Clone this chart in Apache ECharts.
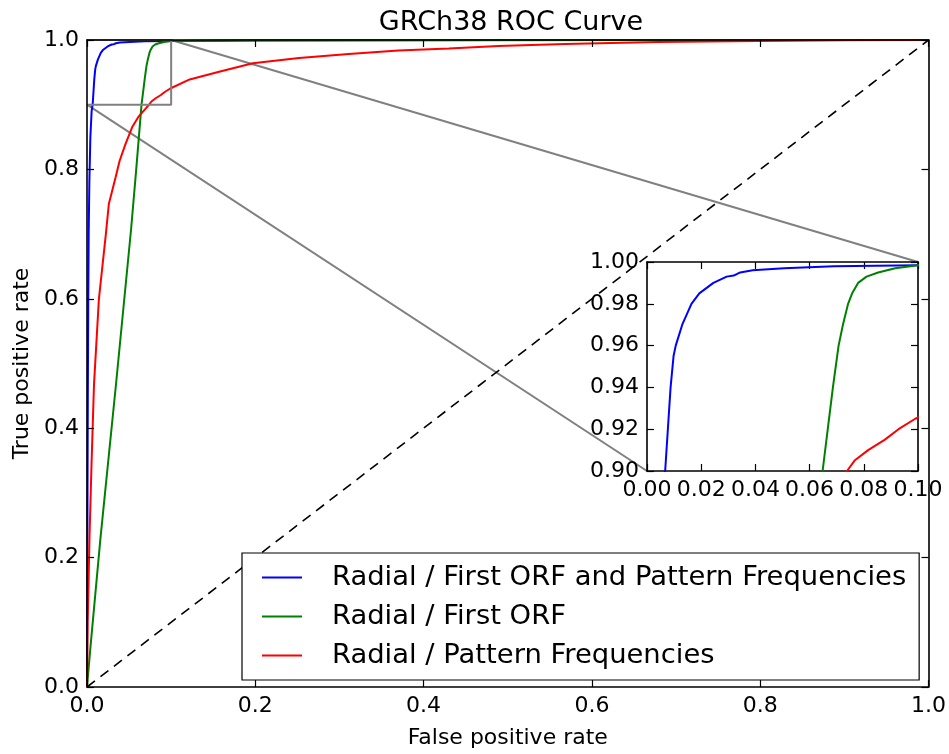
<!DOCTYPE html>
<html>
<head>
<meta charset="utf-8">
<script src="https://cdn.jsdelivr.net/npm/echarts@6/dist/echarts.min.js"></script>
<style>html,body{margin:0;padding:0;background:#fff;}#c{width:949px;height:754px;}</style>
</head>
<body>
<div id="c"></div>
<script>
// ---- data ----
const titleText = 'GRCh38 ROC Curve';
const xName = 'False positive rate';
const yName = 'True positive rate';
const seriesNames = ['Radial / First ORF and Pattern Frequencies', 'Radial / First ORF', 'Radial / Pattern Frequencies'];
const seriesColors = ['#0000ff', '#008000', '#ff0000'];

const fprBoth = [0, 0.0003, 0.0006, 0.001, 0.0015, 0.002, 0.0028, 0.004, 0.0055, 0.0067, 0.0077, 0.0087, 0.0098, 0.0106, 0.013, 0.0164, 0.0193, 0.0245, 0.0294, 0.032, 0.0344, 0.039, 0.0506, 0.069, 0.1, 0.2, 0.4, 0.7, 1.0];
const tprBoth = [0, 0.15, 0.3, 0.45, 0.6, 0.7, 0.78, 0.85, 0.89, 0.90, 0.92, 0.94, 0.955, 0.96, 0.97, 0.98, 0.985, 0.99, 0.993, 0.9935, 0.995, 0.996, 0.997, 0.998, 0.9985, 0.9992, 0.9997, 0.9999, 1.0];

const fprOrf = [0, 0.004, 0.016, 0.0347, 0.0525, 0.0585, 0.0648, 0.0667, 0.0686, 0.0707, 0.0723, 0.0742, 0.0757, 0.0779, 0.081, 0.0853, 0.0916, 0.1, 0.2, 0.5, 1.0];
const tprOrf = [0, 0.06, 0.23, 0.471, 0.709, 0.80, 0.90, 0.92, 0.94, 0.96, 0.97, 0.98, 0.985, 0.99, 0.993, 0.995, 0.997, 0.9985, 0.9995, 0.9999, 1.0];

const fprPat = [0, 0.0008, 0.003, 0.0055, 0.0083, 0.0141, 0.0225, 0.026, 0.034, 0.0387, 0.0457, 0.0536, 0.0615, 0.071, 0.0738, 0.0766, 0.0816, 0.0878, 0.0928, 0.099, 0.122, 0.157, 0.197, 0.252, 0.311, 0.370, 0.43, 0.489, 0.568, 0.678, 0.796, 0.9, 1.0];
const tprPat = [0, 0.1, 0.233, 0.35, 0.467, 0.599, 0.701, 0.747, 0.788, 0.813, 0.839, 0.865, 0.882, 0.896, 0.90, 0.905, 0.91, 0.915, 0.92, 0.925, 0.939, 0.951, 0.964, 0.972, 0.9785, 0.9837, 0.987, 0.9908, 0.9939, 0.997, 0.9985, 0.9995, 1.0];

const chanceX = [0, 1];
const chanceY = [0, 1];
const zoomXRange = [0, 0.1];
const zoomYRange = [0.9, 1.0];

// ---- build ----
const FONT = 'DejaVu Sans';
const zip = (a, b) => a.map((v, i) => [v, b[i]]);
const curves = [zip(fprBoth, tprBoth), zip(fprOrf, tprOrf), zip(fprPat, tprPat)];

function axisCommon(opts) {
  return Object.assign({
    type: 'value',
    splitLine: { show: false },
    axisLine: { show: true, onZero: false, lineStyle: { color: '#000', width: 1.6 } },
    axisTick: { show: true, inside: true, length: 7, lineStyle: { color: '#000', width: 1.2 } },
  }, opts);
}

const chart = echarts.init(document.getElementById('c'), null, { renderer: 'canvas' });

const xAxes = [
  axisCommon({ gridIndex: 0, position: 'bottom', min: 0, max: 1, interval: 0.2, z: 5,
    axisLabel: { margin: 8, color: '#000', fontFamily: FONT, fontSize: 22, formatter: v => v.toFixed(1) },
    name: xName, nameLocation: 'middle', nameGap: 40, nameTextStyle: { color: '#000', fontFamily: FONT, fontSize: 22 } }),
  axisCommon({ gridIndex: 0, position: 'top', min: 0, max: 1, interval: 0.2, z: 5, axisLabel: { show: false } }),
  axisCommon({ gridIndex: 1, position: 'bottom', min: zoomXRange[0], max: zoomXRange[1], interval: 0.02, z: 21,
    axisLabel: { margin: 8, color: '#000', fontFamily: FONT, fontSize: 22, formatter: v => v.toFixed(2) } }),
  axisCommon({ gridIndex: 1, position: 'top', min: zoomXRange[0], max: zoomXRange[1], interval: 0.02, z: 21, axisLabel: { show: false } }),
];
const yAxes = [
  axisCommon({ gridIndex: 0, position: 'left', min: 0, max: 1, interval: 0.2, z: 5,
    axisLabel: { margin: 8, color: '#000', fontFamily: FONT, fontSize: 22, formatter: v => v.toFixed(1) },
    name: yName, nameLocation: 'middle', nameGap: 53, nameTextStyle: { color: '#000', fontFamily: FONT, fontSize: 22 } }),
  axisCommon({ gridIndex: 0, position: 'right', min: 0, max: 1, interval: 0.2, z: 5, axisLabel: { show: false } }),
  axisCommon({ gridIndex: 1, position: 'left', min: zoomYRange[0], max: zoomYRange[1], interval: 0.02, z: 21,
    axisLabel: { margin: 8, color: '#000', fontFamily: FONT, fontSize: 22, formatter: v => v.toFixed(2) } }),
  axisCommon({ gridIndex: 1, position: 'right', min: zoomYRange[0], max: zoomYRange[1], interval: 0.02, z: 21, axisLabel: { show: false } }),
];

const series = [];
curves.forEach((d, i) => {
  series.push({ name: seriesNames[i], type: 'line', xAxisIndex: 0, yAxisIndex: 0, data: d, symbol: 'none', z: 3,
    lineStyle: { color: seriesColors[i], width: 2 }, itemStyle: { color: seriesColors[i] }, animation: false });
});
series.push({ name: 'chance', type: 'line', xAxisIndex: 0, yAxisIndex: 0, data: zip(chanceX, chanceY), symbol: 'none', z: 2,
  lineStyle: { color: '#000', width: 1.6, type: [10, 7] }, animation: false });
series.push({ name: 'zoombox', type: 'line', xAxisIndex: 0, yAxisIndex: 0, symbol: 'none', z: 4,
  data: [[zoomXRange[0], zoomYRange[0]], [zoomXRange[1], zoomYRange[0]], [zoomXRange[1], zoomYRange[1]], [zoomXRange[0], zoomYRange[1]]],
  lineStyle: { color: '#808080', width: 2 }, animation: false });
curves.forEach((d, i) => {
  series.push({ name: seriesNames[i] + ' inset', type: 'line', xAxisIndex: 2, yAxisIndex: 2, data: d, symbol: 'none', z: 22, clip: true,
    lineStyle: { color: seriesColors[i], width: 2 }, animation: false });
});

chart.setOption({
  backgroundColor: '#fff',
  animation: false,
  title: { text: titleText, left: 506, textAlign: 'center', top: 4,
    textStyle: { color: '#000', fontFamily: FONT, fontSize: 27, fontWeight: 'normal' } },
  grid: [
    { left: 87, top: 40, right: 17, bottom: 62, containLabel: false },
    { left: 647, top: 262, right: 31, bottom: 283, containLabel: false, show: true, backgroundColor: '#fff', borderWidth: 0, z: 20 },
  ],
  legend: {
    data: seriesNames.map(n => ({ name: n, icon: 'rect' })), orient: 'vertical', left: 242, top: 553, z: 30,
    backgroundColor: '#fff', borderColor: '#000', borderWidth: 1.2, borderRadius: 0,
    padding: [11, 13, 11, 20], itemGap: 12, itemWidth: 40, itemHeight: 2,
    textStyle: { color: '#000', fontFamily: FONT, fontSize: 27.4, lineHeight: 27, padding: [0, 0, 0, 25] },
    selectedMode: false,
  },
  xAxis: xAxes,
  yAxis: yAxes,
  series: series,
});

// connector lines between zoom box and inset (computed via axis scales)
const a1 = chart.convertToPixel({ xAxisIndex: 0, yAxisIndex: 0 }, [zoomXRange[1], zoomYRange[1]]);
const b1 = chart.convertToPixel({ xAxisIndex: 2, yAxisIndex: 2 }, [zoomXRange[1], zoomYRange[1]]);
const a2 = chart.convertToPixel({ xAxisIndex: 0, yAxisIndex: 0 }, [zoomXRange[0], zoomYRange[0]]);
const b2 = chart.convertToPixel({ xAxisIndex: 2, yAxisIndex: 2 }, [zoomXRange[0], zoomYRange[0]]);
chart.setOption({
  graphic: [
    { type: 'line', z: 1, silent: true, shape: { x1: a1[0], y1: a1[1], x2: b1[0], y2: b1[1] }, style: { stroke: '#808080', lineWidth: 2 } },
    { type: 'line', z: 1, silent: true, shape: { x1: a2[0], y1: a2[1], x2: b2[0], y2: b2[1] }, style: { stroke: '#808080', lineWidth: 2 } },
  ]
});
</script>
</body>
</html>
